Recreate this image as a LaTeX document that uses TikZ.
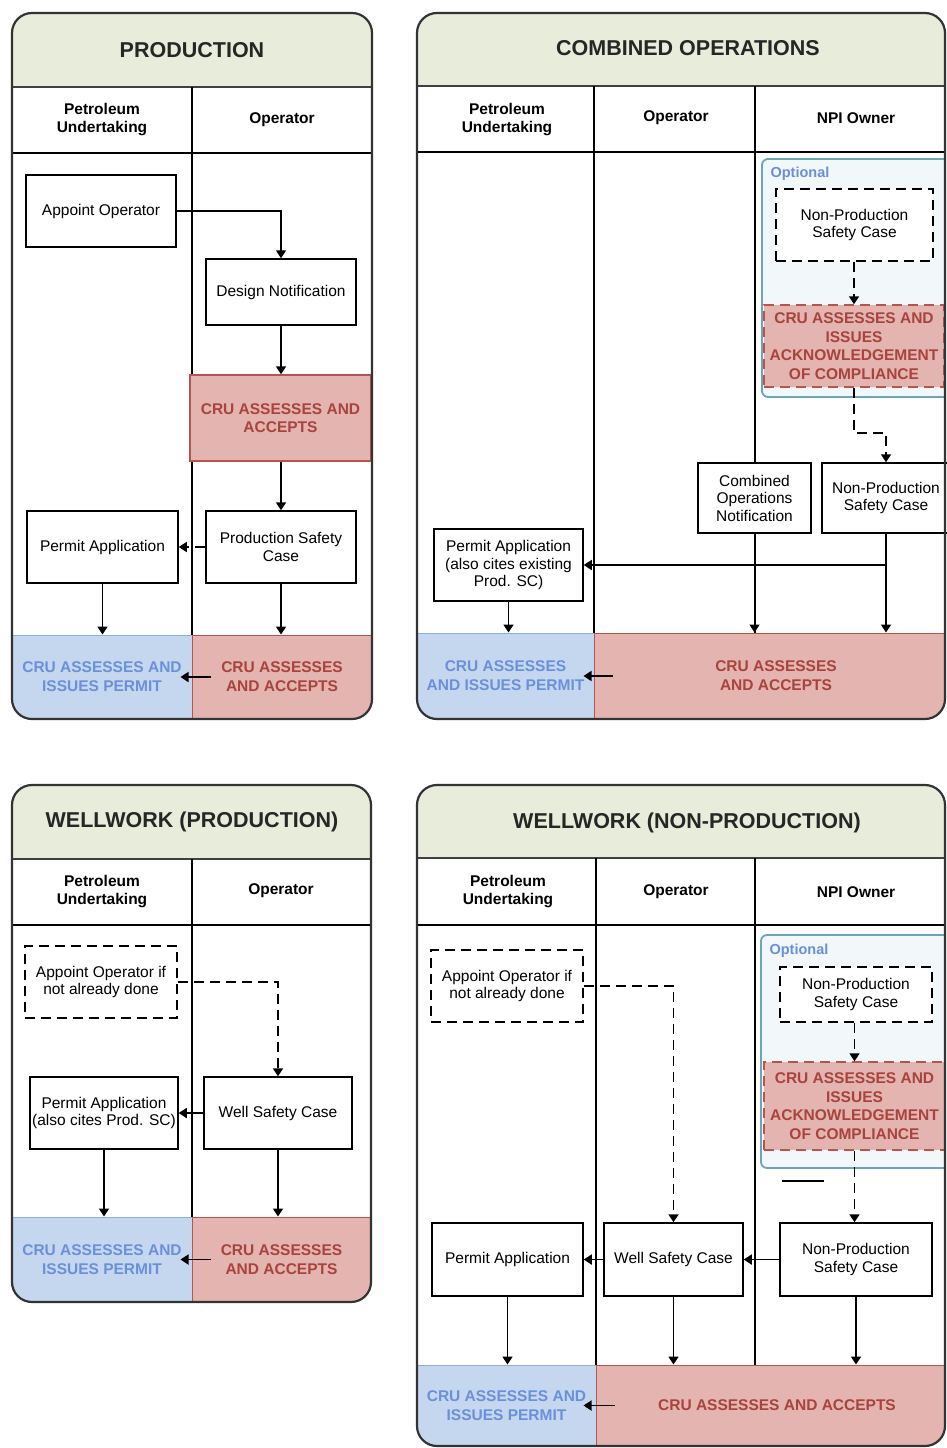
\documentclass[tikz,border=0pt]{standalone}
\usepackage{fontspec}
\setmainfont{Liberation Sans}
\usepackage{tikz}
\usetikzlibrary{arrows.meta}
\definecolor{titlefill}{HTML}{E8ECDA}
\definecolor{redfill}{HTML}{E3B4B0}
\definecolor{redline}{HTML}{B85450}
\definecolor{redtext}{HTML}{A8433D}
\definecolor{bluefill}{HTML}{C5D7EE}
\definecolor{blueline}{HTML}{8DB0E2}
\definecolor{bluetext}{HTML}{6A90DA}
\definecolor{optfill}{HTML}{F2F7FA}
\definecolor{optline}{HTML}{6AA6B7}

\begin{document}
\begin{tikzpicture}[
  x=1pt, y=-1pt,
  box/.style={draw, line width=1.5pt, fill=white, align=center, inner sep=1pt, font=\fontsize{15.5}{17.5}\selectfont},
  dbox/.style={box, dash pattern=on 10pt off 6pt},
  crubox/.style={draw=redline, line width=1.5pt, fill=redfill, text=redtext, align=center, inner sep=0pt, font=\fontsize{15.5}{18.5}\selectfont\bfseries},
  band/.style={line width=1pt, align=center, inner sep=0pt, font=\fontsize{15.5}{19}\selectfont\bfseries},
  laneh/.style={align=center, font=\fontsize{15.5}{18}\selectfont\bfseries},
  heading/.style={font=\fontsize{21.5}{26}\selectfont\bfseries, text=black!85},
  opttag/.style={anchor=west, text=bluetext, font=\fontsize{14.5}{16}\selectfont\bfseries},
  optgroup/.style={draw=optline, line width=1.8pt, fill=optfill, rounded corners=6pt},
  frame/.style={draw=black!80, line width=2.2pt, rounded corners=20pt},
  lane/.style={line width=1.5pt},
  sep/.style={line width=2.2pt, draw=black!75},
  arrow/.style={-{Triangle[length=8pt,width=10pt]}, line width=1.7pt},
  darrow/.style={arrow, dash pattern=on 10pt off 6pt}
]
\useasboundingbox (0,0) rectangle (946,1448);

% ---------------- PRODUCTION ----------------
\begin{scope}
  \clip[rounded corners=20pt] (12,13) rectangle (372,719);
  \fill[titlefill] (12,13) rectangle (372,87);
  \node[band, fill=bluefill, draw=blueline, text=bluetext, minimum width=180pt, minimum height=84pt] (blue1) at (102,677) {CRU ASSESSES AND\\ISSUES PERMIT};
  \node[band, fill=redfill, draw=redline, text=redtext, minimum width=180pt, minimum height=84pt] (red1) at (282,677) {CRU ASSESSES\\AND ACCEPTS};
\end{scope}
\node[heading] (title1) at (192,50) {PRODUCTION};
\draw[sep] (12,87) -- (372,87);
\draw[lane] (12,153) -- (372,153) (192,87) -- (192,635);
\node[laneh] (pu1) at (102,120) {Petroleum\\Undertaking};
\node[laneh] (op1) at (282,120) {Operator};

\node[box, minimum width=150pt, minimum height=72pt] (ao1) at (101,211) {Appoint Operator};
\node[box, minimum width=150pt, minimum height=66pt] (dn1) at (281,292) {Design Notification};
\node[crubox, minimum width=181pt, minimum height=86pt] (cru1) at (280.5,418) {CRU ASSESSES AND\\ACCEPTS};
\node[box, minimum width=150pt, minimum height=72pt] (psc1) at (281,547) {Production Safety\\Case};
\node[box, minimum width=151pt, minimum height=72pt] (pa1) at (102.5,547) {Permit Application};

\draw[arrow] (ao1.east) -| (dn1.north);
\draw[arrow] (dn1.south) -- (dn1.south |- cru1.north);
\draw[arrow] (cru1.south -| psc1) -- (psc1.north);
\draw[darrow] (psc1.west) -- (pa1.east);
\draw[arrow] (pa1.south) -- (pa1.south |- blue1.north);
\draw[arrow] (psc1.south) -- (psc1.south |- red1.north);
\draw[arrow] ([xshift=19pt]red1.west) -- ([xshift=-12pt]blue1.east);
\draw[frame] (12,13) rectangle (372,719);

% ---------------- COMBINED OPERATIONS ----------------
\begin{scope}
  \clip[rounded corners=20pt] (417,13) rectangle (945,719);
  \fill[titlefill] (417,13) rectangle (945,86);
  \node[band, fill=bluefill, draw=blueline, text=bluetext, minimum width=177pt, minimum height=86pt] (blue2) at (505.5,676) {CRU ASSESSES\\AND ISSUES PERMIT};
  \node[band, fill=redfill, draw=redline, text=redtext, minimum width=364pt, minimum height=86pt] (red2) at (776,676) {CRU ASSESSES\\AND ACCEPTS};
  \node[optgroup, minimum width=190pt, minimum height=238pt] (opt2) at (857,278) {};
\end{scope}
\node[heading] (title2) at (688,48) {COMBINED OPERATIONS};
\draw[sep] (417,86) -- (945,86);
\draw[lane] (417,152) -- (945,152) (594,86) -- (594,633) (755,86) -- (755,633);
\node[laneh] (pu2) at (507,120) {Petroleum\\Undertaking};
\node[laneh] (op2) at (676,118) {Operator};
\node[laneh] (npi2) at (856,118) {NPI Owner};

\node[opttag] (optl2) at (767,174) {Optional};
\node[dbox, minimum width=157pt, minimum height=72pt] (npd2) at (854.5,225) {Non-Production\\Safety Case};
\node[crubox, dash pattern=on 10pt off 6pt, minimum width=180pt, minimum height=82pt] (ack2) at (854,346) {CRU ASSESSES AND\\ISSUES\\ACKNOWLEDGEMENT\\OF COMPLIANCE};
\node[box, minimum width=113pt, minimum height=70pt] (con2) at (754.5,498) {Combined\\Operations\\Notification};
\node[box, minimum width=128pt, minimum height=70pt] (nps2) at (886,498) {Non-Production\\Safety Case};
\node[box, minimum width=149pt, minimum height=72pt] (pa2) at (508.5,565) {Permit Application\\(also cites existing\\Prod. SC)};

\draw[darrow] (npd2.south -| ack2) -- (ack2.north);
\draw[darrow] (ack2.south) -- ++(0,45) -| (nps2.north);
\draw[arrow] (nps2.south) |- (pa2.east);
\draw[arrow] (nps2.south) -- (nps2.south |- red2.north);
\draw[arrow] (con2.south) -- (con2.south |- red2.north);
\draw[arrow] (pa2.south) -- (pa2.south |- blue2.north);
\draw[arrow] ([xshift=19pt]red2.west) -- ([xshift=-11pt]blue2.east);
\draw[frame] (417,13) rectangle (945,719);

% ---------------- WELLWORK (PRODUCTION) ----------------
\begin{scope}
  \clip[rounded corners=20pt] (12,785) rectangle (371,1302);
  \fill[titlefill] (12,785) rectangle (371,859);
  \node[band, fill=bluefill, draw=blueline, text=bluetext, minimum width=180pt, minimum height=85pt] (blue3) at (102,1259.5) {CRU ASSESSES AND\\ISSUES PERMIT};
  \node[band, fill=redfill, draw=redline, text=redtext, minimum width=179pt, minimum height=85pt] (red3) at (281.5,1259.5) {CRU ASSESSES\\AND ACCEPTS};
\end{scope}
\node[heading] (title3) at (192,822) {WELLWORK (PRODUCTION)};
\draw[sep] (12,859) -- (371,859);
\draw[lane] (12,925) -- (371,925) (192,859) -- (192,1217);
\node[laneh] (pu3) at (102,892) {Petroleum\\Undertaking};
\node[laneh] (op3) at (281,891) {Operator};

\node[dbox, minimum width=152pt, minimum height=72pt] (ao3) at (101,982) {Appoint Operator if\\not already done};
\node[box, minimum width=148pt, minimum height=72pt] (wsc3) at (278,1113) {Well Safety Case};
\node[box, minimum width=148pt, minimum height=72pt] (pa3) at (104,1113) {Permit Application\\(also cites Prod. SC)};

\draw[darrow] (ao3.east) -| (wsc3.north);
\draw[arrow] (wsc3.west) -- (pa3.east);
\draw[arrow] (pa3.south) -- (pa3.south |- blue3.north);
\draw[arrow] (wsc3.south) -- (wsc3.south |- red3.north);
\draw[arrow] ([xshift=19pt]red3.west) -- ([xshift=-12pt]blue3.east);
\draw[frame] (12,785) rectangle (371,1302);

% ---------------- WELLWORK (NON-PRODUCTION) ----------------
\begin{scope}
  \clip[rounded corners=20pt] (417,785) rectangle (945,1446);
  \fill[titlefill] (417,785) rectangle (945,858);
  \node[band, fill=bluefill, draw=blueline, text=bluetext, minimum width=179pt, minimum height=81pt] (blue4) at (506.5,1405.5) {CRU ASSESSES AND\\ISSUES PERMIT};
  \node[band, fill=redfill, draw=redline, text=redtext, minimum width=362pt, minimum height=81pt] (red4) at (777,1405.5) {CRU ASSESSES AND ACCEPTS};
  \node[optgroup, minimum width=190pt, minimum height=233pt] (opt4) at (856,1051.5) {};
\end{scope}
\node[heading] (title4) at (687,823) {WELLWORK (NON-PRODUCTION)};
\draw[sep] (417,858) -- (945,858);
\draw[lane] (417,925) -- (945,925) (596,858) -- (596,1365) (755,858) -- (755,1365);
\node[laneh] (pu4) at (508,892) {Petroleum\\Undertaking};
\node[laneh] (op4) at (676,892) {Operator};
\node[laneh] (npi4) at (856,892) {NPI Owner};

\node[opttag] (optl4) at (766,951) {Optional};
\node[dbox, minimum width=152pt, minimum height=55pt] (npd4) at (856,994.5) {Non-Production\\Safety Case};
\node[crubox, dash pattern=on 10pt off 6pt, minimum width=181pt, minimum height=88pt] (ack4) at (854.5,1106) {CRU ASSESSES AND\\ISSUES\\ACKNOWLEDGEMENT\\OF COMPLIANCE};
\node[dbox, minimum width=152pt, minimum height=72pt] (ao4) at (507,986) {Appoint Operator if\\not already done};
\node[box, minimum width=151pt, minimum height=73pt] (pa4) at (507.5,1259.5) {Permit Application};
\node[box, minimum width=139pt, minimum height=73pt] (wsc4) at (673.5,1259.5) {Well Safety Case};
\node[box, minimum width=152pt, minimum height=73pt] (nps4) at (856,1259.5) {Non-Production\\Safety Case};

\draw[darrow] (npd4.south -| ack4) -- (ack4.north);
\draw[darrow] (ack4.south) -- (ack4.south |- nps4.north);
\draw[line width=1.5pt] (782,1181) -- (824,1181);
\draw[darrow] (ao4.east) -| (wsc4.north);
\draw[arrow] (nps4.west) -- (wsc4.east);
\draw[arrow] (wsc4.west) -- (pa4.east);
\draw[arrow] (pa4.south) -- (pa4.south |- blue4.north);
\draw[arrow] (wsc4.south) -- (wsc4.south |- red4.north);
\draw[arrow] (nps4.south) -- (nps4.south |- red4.north);
\draw[arrow] ([xshift=19pt]red4.west) -- ([xshift=-13pt]blue4.east);
\draw[frame] (417,785) rectangle (945,1446);
\end{tikzpicture}
\end{document}
